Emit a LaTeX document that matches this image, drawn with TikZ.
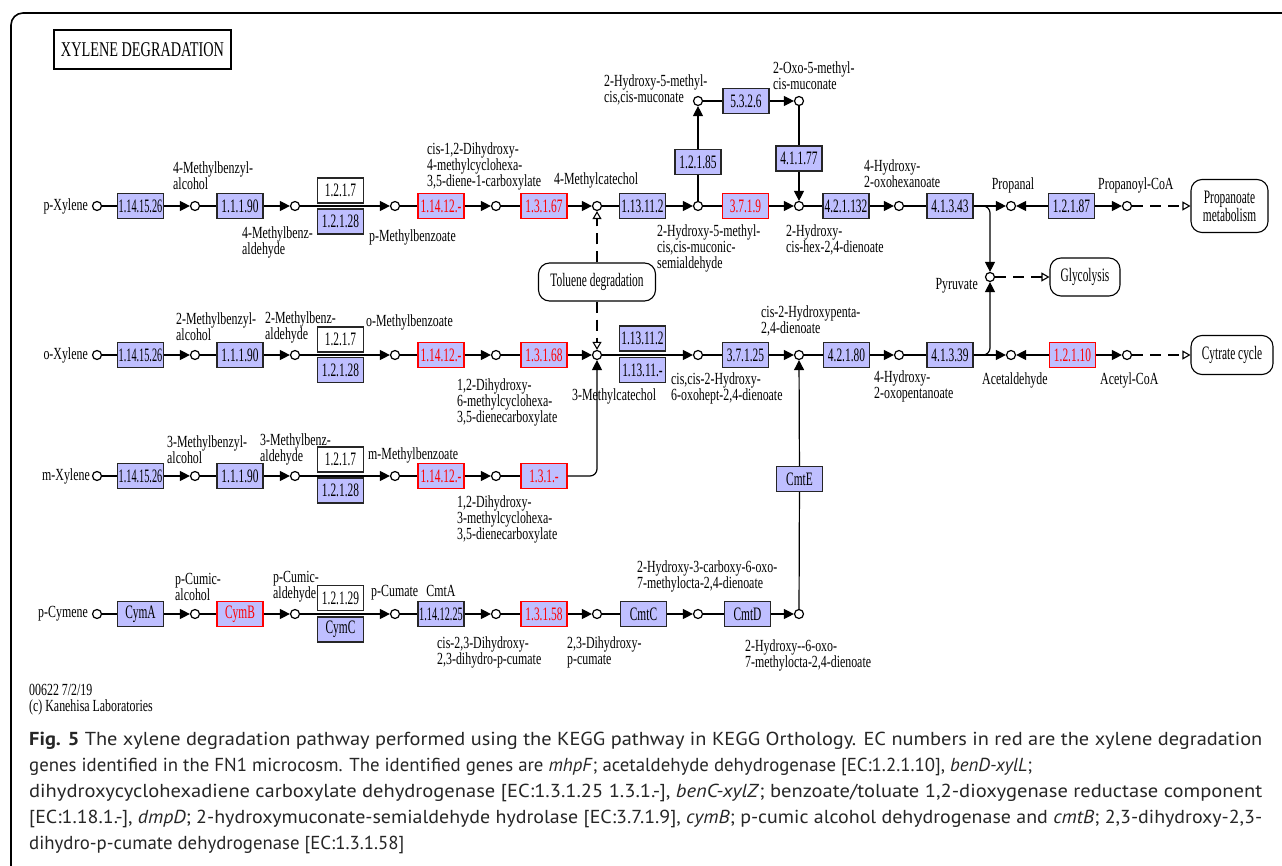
\documentclass[tikz,border=0pt]{standalone}
\usepackage{fontspec}
\usetikzlibrary{arrows.meta}
\newfontfamily\kegg{Liberation Serif}[FakeStretch=0.7]
\newfontfamily\keggb{Liberation Serif}[FakeStretch=0.6]
\newfontfamily\keggn{Liberation Serif}[FakeStretch=0.54]
\newfontfamily\ttlfont{Liberation Serif}[FakeStretch=0.68]
\newfontfamily\capf{PT Sans}
\definecolor{ecblue}{RGB}{191,191,255}
\definecolor{keggred}{RGB}{255,0,0}
\newcommand{\fitline}[1]{\resizebox{1233pt}{\height}{#1}}
\tikzset{
 cpd/.style={circle,draw,fill=white,line width=1.2pt,minimum size=9pt,inner sep=0pt},
 ecbox/.style={rectangle,draw=black!85,line width=1.2pt,fill=ecblue,minimum width=46pt,minimum height=25pt,inner sep=0pt,font=\keggb\fontsize{19}{19}\selectfont},
 ecn/.style={ecbox,font=\keggn\fontsize{19}{19}\selectfont},
 ecred/.style={ecbox,draw=keggred,text=keggred},
 ecw/.style={ecbox,fill=white},
 mapbox/.style={draw,line width=1.1pt,rounded corners=11pt,align=center,inner sep=0pt,font=\keggb\fontsize{19}{17}\selectfont},
 lbl/.style={inner sep=0pt,align=left,font=\kegg\fontsize{17}{16}\selectfont},
 capline/.style={inner sep=0pt,anchor=west,text=black!85,font=\capf\fontsize{18.8}{24}\selectfont},
 ln/.style={line width=1.2pt},
 arr/.style={line width=1.2pt,-{Triangle[length=10pt,width=10pt]}},
 dsh/.style={line width=1.1pt,dash pattern=on 11pt off 7pt,-{Triangle[open,length=8pt,width=9pt]}},
}
\begin{document}
\begin{tikzpicture}[x=1pt,y=-1pt]
\useasboundingbox (0,0) rectangle (1282,866);
\fill[white] (0,0) rectangle (1282,866);
\draw[line width=1.6pt,rounded corners=12pt] (11,868) -- (11,13) -- (1300,13);
\node[draw,line width=2.5pt,minimum width=177pt,minimum height=39pt,inner sep=0pt,font=\ttlfont\fontsize{21}{21}\selectfont] (title) at (142.5,49.5) {XYLENE DEGRADATION};

% ---------- row 1 ----------
\node[cpd] (a0) at (97,206) {};
\node[ecn] (a1) at (140.5,206) {1.14.15.26};
\node[cpd] (a2) at (195,206) {};
\node[ecbox] (a3) at (240,206) {1.1.1.90};
\node[cpd] (a4) at (295,206) {};
\node[ecw] (a5w) at (340.5,190.5) {1.2.1.7};
\node[ecbox] (a5b) at (340.5,221.5) {1.2.1.28};
\node[cpd] (a6) at (395,206) {};
\node[ecred] (a7) at (441,206) {1.14.12.-};
\node[cpd] (a8) at (496,206) {};
\node[ecred] (a9) at (544,206) {1.3.1.67};
\node[cpd] (a10) at (597,206) {};
\node[ecbox] (a11) at (642.5,206) {1.13.11.2};
\node[cpd] (a12) at (698,206) {};
\node[ecred] (a13) at (745.5,206) {3.7.1.9};
\node[cpd] (a14) at (799,206) {};
\node[ecbox] (a15) at (846,206) {4.2.1.132};
\node[cpd] (a16) at (899,206) {};
\node[ecbox] (a17) at (950,206) {4.1.3.43};
\node[cpd] (a18) at (1011,206) {};
\node[ecbox] (a19) at (1071.5,206) {1.2.1.87};
\node[cpd] (a20) at (1127,206) {};
\node[mapbox,minimum width=77pt,minimum height=53pt] (pm) at (1229.5,206) {Propanoate\\metabolism};
\coordinate (j1) at (990,206);

% top branch
\node[cpd] (t1) at (698,101) {};
\node[ecbox] (t2) at (746,101) {5.3.2.6};
\node[cpd] (t3) at (799,101) {};
\node[ecbox] (v1) at (698,162) {1.2.1.85};
\node[ecbox] (v2) at (799,158.5) {4.1.1.77};

% pyruvate / maps
\node[cpd] (pyr) at (990,277) {};
\node[mapbox,minimum width=70pt,minimum height=38pt] (gly) at (1085,277) {Glycolysis};
\node[mapbox,minimum width=117pt,minimum height=38pt] (tol) at (597,282) {Toluene degradation};

% ---------- row 2 ----------
\node[cpd] (b0) at (97,355) {};
\node[ecn] (b1) at (140.5,355) {1.14.15.26};
\node[cpd] (b2) at (195,355) {};
\node[ecbox] (b3) at (240,355) {1.1.1.90};
\node[cpd] (b4) at (295,355) {};
\node[ecw] (b5w) at (340.5,339.5) {1.2.1.7};
\node[ecbox] (b5b) at (340.5,370) {1.2.1.28};
\node[cpd] (b6) at (395,355) {};
\node[ecred] (b7) at (441,355) {1.14.12.-};
\node[cpd] (b8) at (496,355) {};
\node[ecred] (b9) at (544,355) {1.3.1.68};
\node[cpd] (b10) at (597,355) {};
\node[ecbox] (b11a) at (642.5,338.5) {1.13.11.2};
\node[ecbox] (b11b) at (642.5,370) {1.13.11.-};
\node[cpd] (b12) at (698,355) {};
\node[ecbox] (b13) at (745.5,355) {3.7.1.25};
\node[cpd] (b14) at (799,355) {};
\node[ecbox] (b15) at (846.5,355) {4.2.1.80};
\node[cpd] (b16) at (899,355) {};
\node[ecbox] (b17) at (950,355) {4.1.3.39};
\node[cpd] (b18) at (1011,355) {};
\node[ecred] (b19) at (1072.5,355) {1.2.1.10};
\node[cpd] (b20) at (1127,355) {};
\node[mapbox,minimum width=82pt,minimum height=39pt] (cyt) at (1232,355) {Cytrate cycle};
\coordinate (j2) at (990,355);

% ---------- row 3 ----------
\node[cpd] (c0) at (97,476) {};
\node[ecn] (c1) at (140.5,476) {1.14.15.26};
\node[cpd] (c2) at (195,476) {};
\node[ecbox] (c3) at (240,476) {1.1.1.90};
\node[cpd] (c4) at (295,476) {};
\node[ecw] (c5w) at (340.5,459.5) {1.2.1.7};
\node[ecbox] (c5b) at (340.5,490.5) {1.2.1.28};
\node[cpd] (c6) at (395,476) {};
\node[ecred] (c7) at (441,476) {1.14.12.-};
\node[cpd] (c8) at (496,476) {};
\node[ecred] (c9) at (544,476) {1.3.1.-};
\coordinate (j3) at (597,476);
\node[ecbox] (cmte) at (799.5,479) {CmtE};

% ---------- row 4 ----------
\node[cpd] (d0) at (97,614) {};
\node[ecbox] (d1) at (140.5,614) {CymA};
\node[cpd] (d2) at (195,614) {};
\node[ecred] (d3) at (240,614) {CymB};
\node[cpd] (d4) at (295,614) {};
\node[ecw] (d5w) at (340.5,598) {1.2.1.29};
\node[ecbox] (d5b) at (340.5,629.5) {CymC};
\node[cpd] (d6) at (395,614) {};
\node[ecn] (d7) at (441,614) {1.14.12.25};
\node[cpd] (d8) at (496,614) {};
\node[ecred] (d9) at (544,614) {1.3.1.58};
\node[cpd] (d10) at (597,614) {};
\node[ecbox] (d11) at (643.5,614) {CmtC};
\node[cpd] (d12) at (698,614) {};
\node[ecbox] (d13) at (747.5,614) {CmtD};
\node[cpd] (d14) at (799,614) {};

% ---------- connectors ----------
\draw[ln] (a0)--(a1); \draw[arr] (a1)--(a2); \draw[ln] (a2)--(a3); \draw[arr] (a3)--(a4);
\draw[arr] (a4)--(a6); \draw[ln] (a6)--(a7); \draw[arr] (a7)--(a8); \draw[ln] (a8)--(a9);
\draw[arr] (a9)--(a10); \draw[ln] (a10)--(a11); \draw[arr] (a11)--(a12); \draw[ln] (a12)--(a13);
\draw[arr] (a13)--(a14); \draw[ln] (a14)--(a15); \draw[arr] (a15)--(a16); \draw[ln] (a16)--(a17);
\draw[arr] (a17)--(a18); \draw[arr] (a19)--(a18); \draw[arr] (a19)--(a20); \draw[dsh] (a20)--(pm);
\draw[arr,rounded corners=7pt] (a17.east) -- (j1) -- (pyr.north);
\draw[ln] (a12)--(v1); \draw[arr] (v1)--(t1); \draw[ln] (t1)--(t2); \draw[arr] (t2)--(t3);
\draw[ln] (t3)--(v2); \draw[arr] (v2)--(a14);
\draw[dsh] (pyr)--(gly);
\draw[dsh] (tol)--(a10); \draw[dsh] (tol)--(b10);

\draw[ln] (b0)--(b1); \draw[arr] (b1)--(b2); \draw[ln] (b2)--(b3); \draw[arr] (b3)--(b4);
\draw[arr] (b4)--(b6); \draw[ln] (b6)--(b7); \draw[arr] (b7)--(b8); \draw[ln] (b8)--(b9);
\draw[arr] (b9)--(b10); \draw[arr] (b10)--(b12); \draw[ln] (b12)--(b13);
\draw[arr] (b13)--(b14); \draw[ln] (b14)--(b15); \draw[arr] (b15)--(b16); \draw[ln] (b16)--(b17);
\draw[arr] (b17)--(b18); \draw[arr] (b19)--(b18); \draw[arr] (b19)--(b20); \draw[dsh] (b20)--(cyt);
\draw[arr,rounded corners=7pt] (b17.east) -- (j2) -- (pyr.south);

\draw[ln] (c0)--(c1); \draw[arr] (c1)--(c2); \draw[ln] (c2)--(c3); \draw[arr] (c3)--(c4);
\draw[arr] (c4)--(c6); \draw[ln] (c6)--(c7); \draw[arr] (c7)--(c8); \draw[ln] (c8)--(c9);
\draw[arr,rounded corners=7pt] (c9.east) -- (j3) -- (b10.south);

\draw[ln] (d0)--(d1); \draw[arr] (d1)--(d2); \draw[ln] (d2)--(d3); \draw[arr] (d3)--(d4);
\draw[arr] (d4)--(d6); \draw[ln] (d6)--(d7); \draw[arr] (d7)--(d8); \draw[ln] (d8)--(d9);
\draw[arr] (d9)--(d10); \draw[ln] (d10)--(d11); \draw[arr] (d11)--(d12); \draw[ln] (d12)--(d13);
\draw[arr] (d13)--(d14);
\draw[ln] (d14)--(cmte); \draw[arr] (cmte)--(b14);

% ---------- labels ----------
\node[lbl,anchor=east] (la0) at (88,206) {p-Xylene};
\node[lbl,anchor=west] (la2) at (173,176) {4-Methylbenzyl-\\alcohol};
\node[lbl,anchor=west] (la4) at (242,242) {4-Methylbenz-\\aldehyde};
\node[lbl,anchor=west] (la6) at (369,237) {p-Methylbenzoate};
\node[lbl,anchor=west] (la8) at (427,166) {cis-1,2-Dihydroxy-\\4-methylcyclohexa-\\3,5-diene-1-carboxylate};
\node[lbl,anchor=west] (la10) at (554,180) {4-Methylcatechol};
\node[lbl,anchor=west] (la12) at (657,248) {2-Hydroxy-5-methyl-\\cis,cis-muconic-\\semialdehyde};
\node[lbl,anchor=west] (lt1) at (604,89.5) {2-Hydroxy-5-methyl-\\cis,cis-muconate};
\node[lbl,anchor=west] (lt3) at (773,76) {2-Oxo-5-methyl-\\cis-muconate};
\node[lbl,anchor=west] (la14) at (786,240) {2-Hydroxy-\\cis-hex-2,4-dienoate};
\node[lbl,anchor=west] (la16) at (864,173.5) {4-Hydroxy-\\2-oxohexanoate};
\node[lbl] (la18) at (1013,185) {Propanal};
\node[lbl,anchor=west] (la20) at (1098,185) {Propanoyl-CoA};
\node[lbl,anchor=east] (lpyr) at (978,286) {Pyruvate};

\node[lbl,anchor=east] (lb0) at (88,355) {o-Xylene};
\node[lbl,anchor=west] (lb2) at (176,327) {2-Methylbenzyl-\\alcohol};
\node[lbl,anchor=west] (lb4) at (265,327) {2-Methylbenz-\\aldehyde};
\node[lbl,anchor=west] (lb6) at (366,322) {o-Methylbenzoate};
\node[lbl,anchor=west] (lb8) at (457,402) {1,2-Dihydroxy-\\6-methylcyclohexa-\\3,5-dienecarboxylate};
\node[lbl,anchor=west] (lb10) at (572,396) {3-Methylcatechol};
\node[lbl,anchor=west] (lb12) at (671,388) {cis,cis-2-Hydroxy-\\6-oxohept-2,4-dienoate};
\node[lbl,anchor=west] (lb14) at (761,321) {cis-2-Hydroxypenta-\\2,4-dienoate};
\node[lbl,anchor=west] (lb16) at (874,386.5) {4-Hydroxy-\\2-oxopentanoate};
\node[lbl,anchor=west] (lb18) at (982,380) {Acetaldehyde};
\node[lbl,anchor=west] (lb20) at (1100,380) {Acetyl-CoA};

\node[lbl,anchor=east] (lc0) at (90,476) {m-Xylene};
\node[lbl,anchor=west] (lc2) at (167,449.5) {3-Methylbenzyl-\\alcohol};
\node[lbl,anchor=west] (lc4) at (260,449.5) {3-Methylbenz-\\aldehyde};
\node[lbl,anchor=west] (lc6) at (368,455) {m-Methylbenzoate};
\node[lbl,anchor=west] (lc8) at (457,519) {1,2-Dihydroxy-\\3-methylcyclohexa-\\3,5-dienecarboxylate};

\node[lbl,anchor=east] (ld0) at (88,614) {p-Cymene};
\node[lbl,anchor=west] (ld2) at (175,586.5) {p-Cumic-\\alcohol};
\node[lbl,anchor=west] (ld4) at (273,586.5) {p-Cumic-\\aldehyde};
\node[lbl,anchor=west] (ld6) at (371,593) {p-Cumate};
\node[lbl] (lcmta) at (441,591) {CmtA};
\node[lbl,anchor=west] (ld8) at (437,652) {cis-2,3-Dihydroxy-\\2,3-dihydro-p-cumate};
\node[lbl,anchor=west] (ld10) at (567,652) {2,3-Dihydroxy-\\p-cumate};
\node[lbl,anchor=west] (ld12) at (637,576) {2-Hydroxy-3-carboxy-6-oxo-\\7-methylocta-2,4-dienoate};
\node[lbl,anchor=west] (ld14) at (745,655) {2-Hydroxy--6-oxo-\\7-methylocta-2,4-dienoate};

\node[lbl,anchor=west] (foot) at (29,699.5) {00622 7/2/19\\(c) Kanehisa Laboratories};

% ---------- caption ----------
\node[capline] (cap1) at (29,741) {\fitline{\textbf{Fig. 5} The xylene degradation pathway performed using the KEGG pathway in KEGG Orthology. EC numbers in red are the xylene degradation}};
\node[capline] (cap2) at (29,767) {genes identified in the FN1 microcosm. The identified genes are \textit{mhpF}; acetaldehyde dehydrogenase [EC:1.2.1.10], \textit{benD-xylL};};
\node[capline] (cap3) at (29,793) {\fitline{dihydroxycyclohexadiene carboxylate dehydrogenase [EC:1.3.1.25 1.3.1.-], \textit{benC-xylZ}; benzoate/toluate 1,2-dioxygenase reductase component}};
\node[capline] (cap4) at (29,819) {\fitline{[EC:1.18.1.-], \textit{dmpD}; 2-hydroxymuconate-semialdehyde hydrolase [EC:3.7.1.9], \textit{cymB}; p-cumic alcohol dehydrogenase and \textit{cmtB}; 2,3-dihydroxy-2,3-}};
\node[capline] (cap5) at (29,845) {dihydro-p-cumate dehydrogenase [EC:1.3.1.58]};
\end{tikzpicture}
\end{document}
